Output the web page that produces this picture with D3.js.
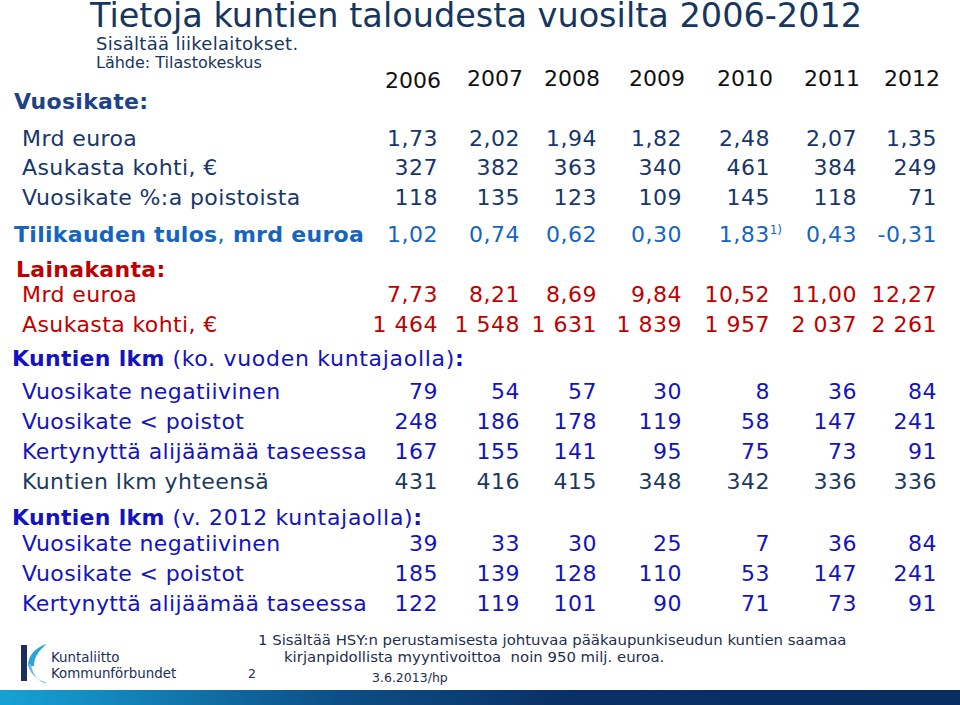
<!DOCTYPE html>
<html>
<head>
<meta charset="utf-8">
<title>Tietoja kuntien taloudesta</title>
<script src="https://cdn.jsdelivr.net/npm/d3@7"></script>
<style>
  body { margin: 0; background: #fff; }
  svg { display: block; font-family: "DejaVu Sans", Verdana, sans-serif; }
</style>
</head>
<body>
<svg id="chart" width="960" height="705"></svg>
<script>
// --- data ---
var years = [2006, 2007, 2008, 2009, 2010, 2011, 2012];

var vuosikateMrd = [1.73, 2.02, 1.94, 1.82, 2.48, 2.07, 1.35];
var vuosikateAsukas = [327, 382, 363, 340, 461, 384, 249];
var vuosikatePoistoista = [118, 135, 123, 109, 145, 118, 71];
var tulosMrd = [1.02, 0.74, 0.62, 0.30, 1.83, 0.43, -0.31];
var tulosNotes = ["", "", "", "", "1)", "", ""];
var lainaMrd = [7.73, 8.21, 8.69, 9.84, 10.52, 11.00, 12.27];
var lainaAsukas = [1464, 1548, 1631, 1839, 1957, 2037, 2261];

var negatiivinen = [79, 54, 57, 30, 8, 36, 84];
var allePoistojen = [248, 186, 178, 119, 58, 147, 241];
var alijaama = [167, 155, 141, 95, 75, 73, 91];
var kuntiaYhteensa = [431, 416, 415, 348, 342, 336, 336];

var negatiivinen2012 = [39, 33, 30, 25, 7, 36, 84];
var allePoistojen2012 = [185, 139, 128, 110, 53, 147, 241];
var alijaama2012 = [122, 119, 101, 90, 71, 73, 91];

// Finnish number formatting: "1,73", "1 464", "-0,31"
var fi = d3.formatLocale({decimal: ",", thousands: " ", grouping: [3], currency: ["", " €"], minus: "-"});
var f2 = fi.format(".2f"), fInt = fi.format(",d");

var svg = d3.select("#chart");

// colours
var navy = "#17366b", title = "#17365d", bright = "#1565c0", red = "#c00000",
    blue = "#1313c0", dark = "#1c3a5e";

// column right edges
var x = d3.scaleOrdinal().domain(years).range([438, 520, 597, 682, 770, 857, 937]);

// title block
svg.append("text").attr("x", 90).attr("y", 27).attr("fill", title)
    .style("font-size", "33.5px").text("Tietoja kuntien taloudesta vuosilta 2006-2012");
svg.append("text").attr("x", 96).attr("y", 50).attr("fill", title)
    .style("font-size", "18px").style("letter-spacing", "0.3px").text("Sisältää liikelaitokset.");
svg.append("text").attr("x", 96).attr("y", 68).attr("fill", title)
    .style("font-size", "16px").text("Lähde: Tilastokeskus");

// year header
svg.selectAll("text.year").data(years).enter().append("text")
    .attr("class", "year")
    .attr("x", function(d) { return x(d) + 3; })
    .attr("y", function(d, i) { return i === 0 ? 88 : 86; })
    .attr("text-anchor", "end").attr("fill", "#111")
    .style("font-size", "22px").text(function(d) { return d; });

// section headings (bold part + normal part)
var headings = [
  {y: 109, x: 14, color: "#1d4289", parts: [["Vuosikate:", true]]},
  {y: 242, x: 14, color: bright, parts: [["Tilikauden tulos", true], [", ", false], ["mrd euroa", true]]},
  {y: 277, x: 16, color: red, parts: [["Lainakanta:", true]]},
  {y: 366, x: 12, color: blue, parts: [["Kuntien lkm", true], [" (ko. vuoden kuntajaolla)", false], [":", true]]},
  {y: 525, x: 12, color: blue, parts: [["Kuntien lkm", true], [" (v. 2012 kuntajaolla)", false], [":", true]]}
];
headings.forEach(function(h) {
  var t = svg.append("text").attr("x", h.x).attr("y", h.y).attr("fill", h.color)
      .style("font-size", "22px");
  h.parts.forEach(function(p) {
    t.append("tspan").style("font-weight", p[1] ? "bold" : "normal")
        .style("letter-spacing", p[1] ? "0.3px" : "0.7px").text(p[0]);
  });
});

// table rows
var rows = [
  {label: "Mrd euroa", values: vuosikateMrd, fmt: f2, y: 146, color: navy},
  {label: "Asukasta kohti, €", values: vuosikateAsukas, fmt: fInt, y: 175, color: navy},
  {label: "Vuosikate %:a poistoista", values: vuosikatePoistoista, fmt: fInt, y: 205, color: navy},
  {label: null, values: tulosMrd, fmt: f2, y: 242, color: bright, notes: tulosNotes},
  {label: "Mrd euroa", values: lainaMrd, fmt: f2, y: 302, color: red},
  {label: "Asukasta kohti, €", values: lainaAsukas, fmt: fInt, y: 332, color: red},
  {label: "Vuosikate negatiivinen", values: negatiivinen, fmt: fInt, y: 399, color: blue},
  {label: "Vuosikate < poistot", values: allePoistojen, fmt: fInt, y: 429, color: blue},
  {label: "Kertynyttä alijäämää taseessa", values: alijaama, fmt: fInt, y: 459, color: blue},
  {label: "Kuntien lkm yhteensä", values: kuntiaYhteensa, fmt: fInt, y: 489, color: dark},
  {label: "Vuosikate negatiivinen", values: negatiivinen2012, fmt: fInt, y: 551, color: blue},
  {label: "Vuosikate < poistot", values: allePoistojen2012, fmt: fInt, y: 581, color: blue},
  {label: "Kertynyttä alijäämää taseessa", values: alijaama2012, fmt: fInt, y: 611, color: blue}
];

var row = svg.selectAll("g.row").data(rows).enter().append("g")
    .attr("class", "row")
    .attr("fill", function(d) { return d.color; })
    .style("font-size", "22px");

row.filter(function(d) { return d.label; }).append("text")
    .attr("x", 22).attr("y", function(d) { return d.y; })
    .style("letter-spacing", "0.4px")
    .text(function(d) { return d.label; });

row.each(function(r) {
  var cells = d3.select(this).selectAll("text.val")
      .data(r.values.map(function(v, i) { return {v: v, year: years[i], note: r.notes ? r.notes[i] : ""}; }))
      .enter().append("text")
      .attr("class", "val")
      .attr("x", function(d) { return x(d.year) + (d.note ? 12 : 0); })
      .attr("y", r.y)
      .attr("text-anchor", "end")
      .style("letter-spacing", "0.5px");
  cells.append("tspan").text(function(d) { return r.fmt(d.v); });
  cells.filter(function(d) { return d.note; }).append("tspan")
      .attr("dy", -8).style("font-size", "12px").style("letter-spacing", "0").text(function(d) { return d.note; });
});

// footnote
var foot = "#1f2d4d";
svg.append("text").attr("x", 258).attr("y", 645).attr("fill", foot).style("font-size", "14.9px")
    .text("1 Sisältää HSY:n perustamisesta johtuvaa pääkaupunkiseudun kuntien saamaa");
svg.append("text").attr("x", 284).attr("y", 662).attr("fill", foot).style("font-size", "14.9px")
    .attr("xml:space", "preserve").style("white-space", "pre")
    .text("kirjanpidollista myyntivoittoa  noin 950 milj. euroa.");
svg.append("text").attr("x", 372).attr("y", 682).attr("fill", foot).style("font-size", "12.5px")
    .text("3.6.2013/hp");
svg.append("text").attr("x", 248).attr("y", 678).attr("fill", foot).style("font-size", "12.5px")
    .text("2");

// logo
var logo = svg.append("g");
logo.append("rect").attr("x", 21).attr("y", 645).attr("width", 6).attr("height", 36).attr("fill", "#1b2f5e");
logo.append("path").attr("fill", "#2aa3dc")
    .attr("d", "M47,644 C36,647 28,655 28,666 L34,666 C34,657 39,650 47,644 Z");
logo.append("path").attr("fill", "#5fb8e6")
    .attr("d", "M28,664 C29,673 37,680 47,683 L44,683 C37,680 32,673 31,664 Z");
logo.append("text").attr("x", 51).attr("y", 662).attr("fill", "#1c2d5a").style("font-size", "13.4px").text("Kuntaliitto");
logo.append("text").attr("x", 51).attr("y", 678).attr("fill", "#1c2d5a").style("font-size", "13.4px").text("Kommunförbundet");

// bottom band
var grad = svg.append("defs").append("linearGradient").attr("id", "band")
    .attr("x1", 0).attr("x2", 1).attr("y1", 0).attr("y2", 0);
grad.append("stop").attr("offset", "0").attr("stop-color", "#17a2d6");
grad.append("stop").attr("offset", "0.35").attr("stop-color", "#0c4f86");
grad.append("stop").attr("offset", "0.6").attr("stop-color", "#0a2f64");
grad.append("stop").attr("offset", "1").attr("stop-color", "#0a2d62");
svg.append("rect").attr("x", 0).attr("y", 690).attr("width", 960).attr("height", 15).attr("fill", "url(#band)");
</script>
</body>
</html>
